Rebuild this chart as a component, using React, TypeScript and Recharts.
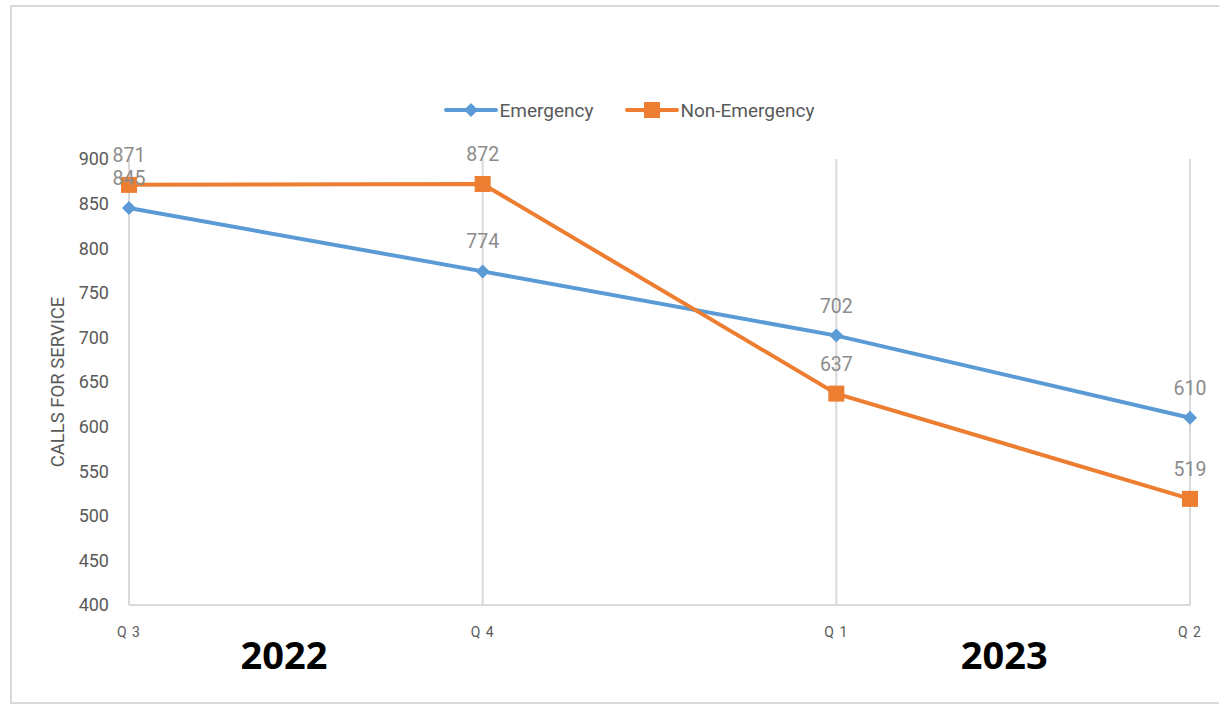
import { LineChart, Line, XAxis, YAxis, CartesianGrid, Legend, LabelList, Label } from 'recharts';

const quarters = ['Q 3', 'Q 4', 'Q 1', 'Q 2'];
const years = ['2022', '', '2023', ''];
const emergency = [845, 774, 702, 610];
const nonEmergency = [871, 872, 637, 519];
const yTicks = [400, 450, 500, 550, 600, 650, 700, 750, 800, 850, 900];

const data = quarters.map((q, i) => ({
  quarter: q,
  year: years[i],
  emergency: emergency[i],
  nonEmergency: nonEmergency[i],
}));

const FONT = 'Roboto, "Liberation Sans", sans-serif';
const BLUE = '#5B9BD5';
const ORANGE = '#ED7D31';

// the year captions sit roughly halfway between two quarters
const yearOffset: Record<string, number> = { '2022': 155, '2023': 168 };

function QuarterTick(props: any) {
  const { x, y, payload, index } = props;
  const yr = years[index];
  return (
    <g>
      <text x={x} y={y} dy={12} textAnchor="middle" fill="#595959" fontSize={14} fontFamily={FONT} letterSpacing={1}>
        {payload.value}
      </text>
      {yr && (
        <text x={x + yearOffset[yr]} y={y} dy={44} textAnchor="middle" fill="#000" fontSize={38} fontWeight="bold" fontFamily='"Open Sans", sans-serif'>
          {yr}
        </text>
      )}
    </g>
  );
}

function Diamond(props: any) {
  const { cx, cy } = props;
  if (cx == null || cy == null) return null;
  const r = 7;
  return <polygon points={`${cx},${cy - r} ${cx + r},${cy} ${cx},${cy + r} ${cx - r},${cy}`} fill={BLUE} />;
}

function Square(props: any) {
  const { cx, cy } = props;
  if (cx == null || cy == null) return null;
  const s = 8;
  return <rect x={cx - s} y={cy - s} width={s * 2} height={s * 2} fill={ORANGE} />;
}

function LegendContent() {
  const item = (label: string, color: string, shape: 'diamond' | 'square') => (
    <div style={{ display: 'flex', alignItems: 'center', marginRight: 32, height: 22 }}>
      <svg width={54} height={20}>
        <line x1={2} y1={10} x2={52} y2={10} stroke={color} strokeWidth={4} strokeLinecap="round" />
        {shape === 'diamond' ? (
          <polygon points="27,3 34,10 27,17 20,10" fill={color} />
        ) : (
          <rect x={19} y={2} width={16} height={16} fill={color} />
        )}
      </svg>
      <span style={{ color: '#595959', fontSize: 19, fontFamily: FONT, marginLeft: 1 }}>{label}</span>
    </div>
  );
  return (
    <div style={{ height: 60, display: 'flex', alignItems: 'flex-start', justifyContent: 'center', paddingLeft: 32 }}>
      {item('Emergency', BLUE, 'diamond')}
      {item('Non-Emergency', ORANGE, 'square')}
    </div>
  );
}

export default function App() {
  return (
    <div style={{ position: 'absolute', left: 0, top: 0, width: 1219, height: 707, background: '#fff' }}>
      <div
        style={{
          position: 'absolute',
          left: 10,
          top: 5,
          width: 1215,
          height: 699,
          border: '2px solid #d9d9d9',
          boxSizing: 'border-box',
        }}
      />
      <div style={{ position: 'absolute', left: 0, top: 0 }}>
        <LineChart width={1219} height={707} data={data} margin={{ top: 99, right: 29, bottom: 72, left: 69 }}>
          <CartesianGrid horizontal={false} stroke="#d9d9d9" strokeWidth={2} />
          <XAxis
            dataKey="quarter"
            height={30}
            axisLine={{ stroke: '#d9d9d9', strokeWidth: 2 }}
            tickLine={false}
            tickSize={0}
            tickMargin={20}
            tick={<QuarterTick />}
            interval={0}
          />
          <YAxis
            width={60}
            domain={[400, 900]}
            ticks={yTicks}
            axisLine={false}
            tickLine={false}
            tickSize={0}
            tickMargin={20}
            tick={{ fill: '#595959', fontSize: 18, fontFamily: FONT }}
          >
            <Label
              value="CALLS FOR SERVICE"
              angle={-90}
              position="insideLeft"
              offset={-12}
              style={{ fill: '#595959', fontSize: 18.5, fontFamily: FONT, textAnchor: 'middle' }}
            />
          </YAxis>
          <Legend verticalAlign="top" content={<LegendContent />} />
          <Line
            dataKey="emergency"
            stroke={BLUE}
            strokeWidth={4}
            dot={<Diamond />}
            activeDot={false}
            isAnimationActive={false}
          >
            <LabelList dataKey="emergency" position="top" offset={23} fill="#8c8c8c" fontSize={19.5} fontFamily={FONT} />
          </Line>
          <Line
            dataKey="nonEmergency"
            stroke={ORANGE}
            strokeWidth={4}
            dot={<Square />}
            activeDot={false}
            isAnimationActive={false}
          >
            <LabelList dataKey="nonEmergency" position="top" offset={23} fill="#8c8c8c" fontSize={19.5} fontFamily={FONT} />
          </Line>
        </LineChart>
      </div>
    </div>
  );
}
